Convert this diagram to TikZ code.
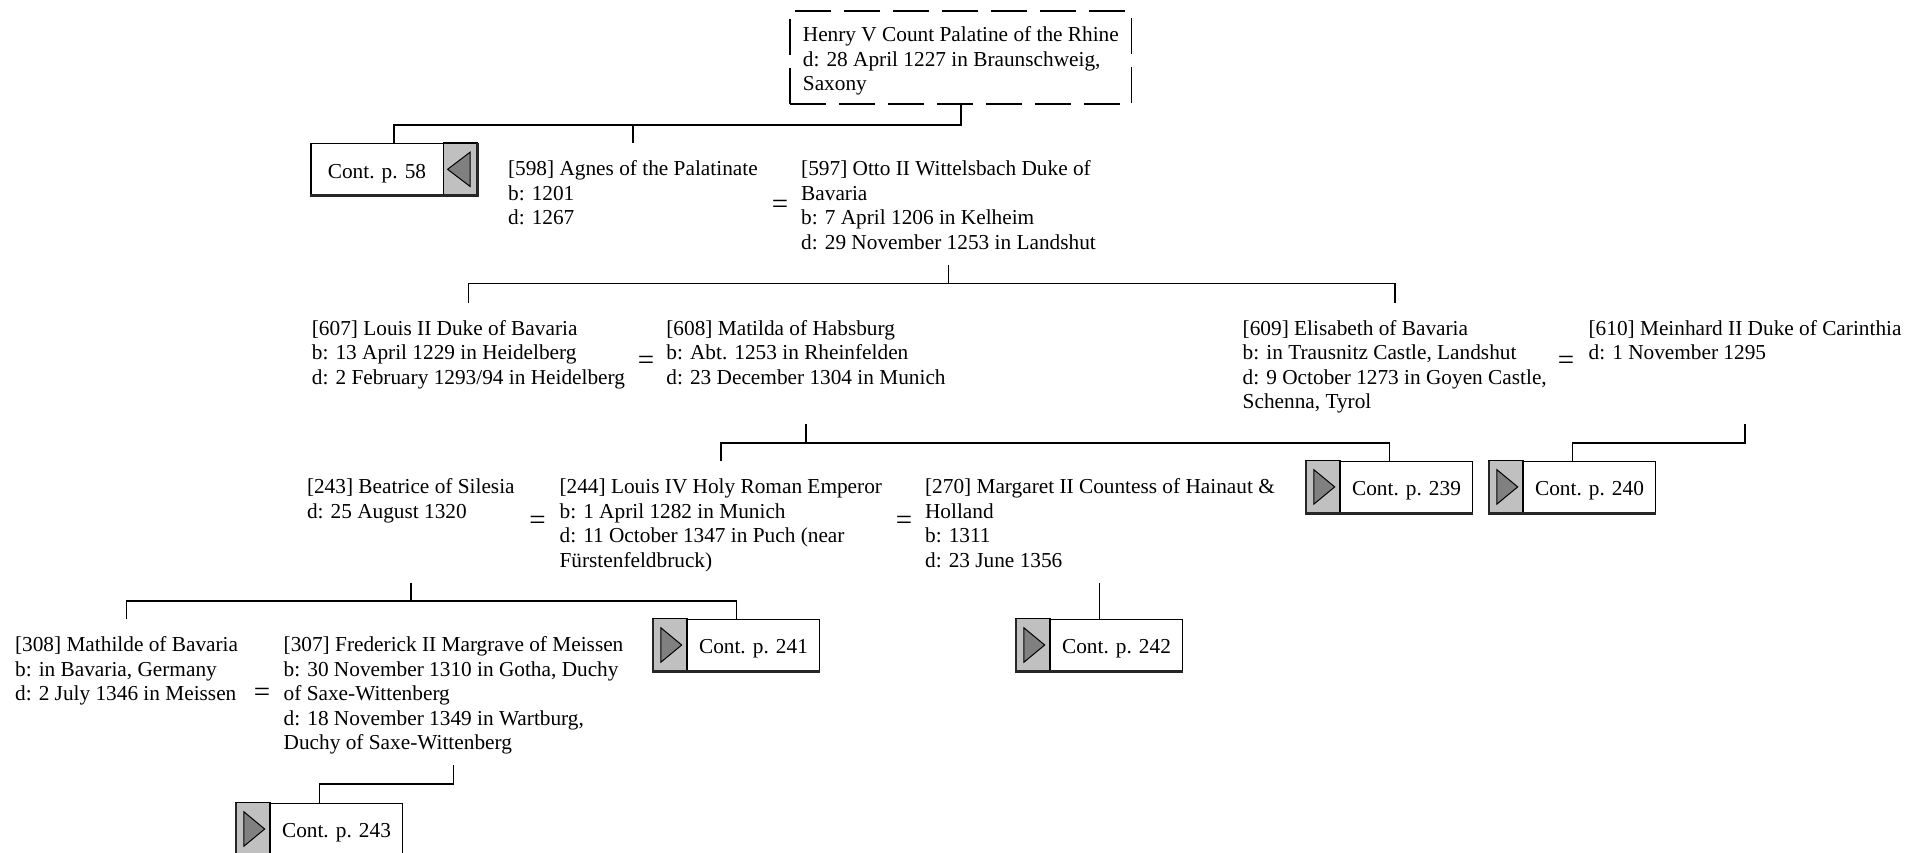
\documentclass[tikz,border=0pt]{standalone}
\usepackage{fontspec}
\setmainfont{Liberation Serif}
\definecolor{btngray}{HTML}{C0C0C0}
\definecolor{tridark}{HTML}{808080}
\newcommand\pfont{\fontsize{10.65pt}{12.25pt}\selectfont}
\newcommand\eqfont{\fontsize{14.5pt}{14.5pt}\selectfont}
\newcommand\contgrayR[1]{%
  \draw[graypart] ([xshift=-17pt]#1.north east) rectangle (#1.south east);
  \draw[tri] ([xshift=-15pt]#1.east) -- ([xshift=-3.7pt,yshift=8.6pt]#1.east) -- ([xshift=-3.7pt,yshift=-8.6pt]#1.east) -- cycle;
  \draw[shadowline] (#1.south west) -- (#1.south east) -- (#1.north east);
}
\newcommand\contgrayL[1]{%
  \draw[graypart] (#1.north west) rectangle ([xshift=17pt]#1.south west);
  \draw[tri] ([xshift=14.4pt]#1.west) -- ([xshift=4pt,yshift=8.6pt]#1.west) -- ([xshift=4pt,yshift=-8.6pt]#1.west) -- cycle;
  \draw[shadowline] (#1.north west) -- (#1.south west) -- (#1.south east);
}
\begin{document}
\begin{tikzpicture}[x=0.5pt,y=-0.5pt,
  person/.style={anchor=north west, inner sep=0pt, align=left, font=\pfont},
  eqsign/.style={inner sep=0pt, anchor=base, font=\eqfont},
  conn/.style={line width=0.8pt, black},
  contbox/.style={draw=black, line width=0.6pt, fill=white, inner sep=0pt, minimum height=25.75pt, text height=8.8pt, text depth=0pt, font=\pfont},
  graypart/.style={draw=black, line width=0.6pt, fill=btngray},
  tri/.style={draw=black, line width=0.5pt, fill=tridark, line join=miter},
  shadowline/.style={line width=1.3pt, black!85},
  dashedbox/.style={draw=black, line width=0.6pt, dash pattern=on 18pt off 6.5pt, align=left, inner sep=0pt, minimum width=170.85pt, minimum height=46.5pt, font=\pfont}
]
\useasboundingbox (0,0) rectangle (1923,852);

% people
\node[dashedbox] (henry) at (960.85,57.5) {\rule{0pt}{10.8pt}Henry V Count Palatine of the Rhine\\ d: 28 April 1227 in Braunschweig,\\ Saxony};
\node[person] (agnes) at (507.7,158.4) {\strut [598] Agnes of the Palatinate\\ b: 1201\\ d: 1267};
\node[person] (otto) at (800.8,158.4) {\strut [597] Otto II Wittelsbach Duke of\\ Bavaria\\ b: 7 April 1206 in Kelheim\\ d: 29 November 1253 in Landshut};
\node[person] (louis2) at (311.5,317.8) {\strut [607] Louis II Duke of Bavaria\\ b: 13 April 1229 in Heidelberg\\ d: 2 February 1293/94 in Heidelberg};
\node[person] (matilda) at (666,317.8) {\strut [608] Matilda of Habsburg\\ b: Abt. 1253 in Rheinfelden\\ d: 23 December 1304 in Munich};
\node[person] (elisabeth) at (1242.3,317.8) {\strut [609] Elisabeth of Bavaria\\ b: in Trausnitz Castle, Landshut\\ d: 9 October 1273 in Goyen Castle,\\ Schenna, Tyrol};
\node[person] (meinhard) at (1588.2,317.8) {\strut [610] Meinhard II Duke of Carinthia\\ d: 1 November 1295};
\node[person] (beatrice) at (306.6,476) {\strut [243] Beatrice of Silesia\\ d: 25 August 1320};
\node[person] (louis4) at (559.2,476) {\strut [244] Louis IV Holy Roman Emperor\\ b: 1 April 1282 in Munich\\ d: 11 October 1347 in Puch (near\\ Fürstenfeldbruck)};
\node[person] (margaret) at (924.7,476) {\strut [270] Margaret II Countess of Hainaut \&\\ Holland\\ b: 1311\\ d: 23 June 1356};
\node[person] (mathilde) at (14.7,634.3) {\strut [308] Mathilde of Bavaria\\ b: in Bavaria, Germany\\ d: 2 July 1346 in Meissen};
\node[person] (frederick) at (283.3,634.3) {\strut [307] Frederick II Margrave of Meissen\\ b: 30 November 1310 in Gotha, Duchy\\ of Saxe-Wittenberg\\ d: 18 November 1349 in Wartburg,\\ Duchy of Saxe-Wittenberg};

% marriage signs (placed on their baseline)
\node[eqsign] (eq1) at (780,213) {=};
\node[eqsign] (eq2) at (646,369.5) {=};
\node[eqsign] (eq3) at (1566,369.5) {=};
\node[eqsign] (eq4) at (537.5,529.5) {=};
\node[eqsign] (eq5) at (904,529.5) {=};
\node[eqsign] (eq6) at (262,701.5) {=};

% junction levels
\coordinate (bar0) at (0,125);
\coordinate (row1b) at (0,265);
\coordinate (bar1) at (0,283.3);
\coordinate (row2b) at (0,424.3);
\coordinate (bar2) at (0,442.7);
\coordinate (row3b) at (0,582.5);
\coordinate (bar3) at (0,600.9);
\coordinate (row4b) at (0,765.3);
\coordinate (bar4) at (0,783.7);

% continuation boxes
\node[contbox] (cont58) at (394,169.3) {\makebox[66pt]{Cont. p. 58}\rule{17pt}{0pt}};
\node[contbox] (cont239) at (1389.5,486.9) {\rule{17pt}{0pt}\makebox[66pt]{Cont. p. 239}};
\node[contbox] (cont240) at (1572.5,486.9) {\rule{17pt}{0pt}\makebox[66pt]{Cont. p. 240}};
\node[contbox] (cont241) at (736.5,645) {\rule{17pt}{0pt}\makebox[66pt]{Cont. p. 241}};
\node[contbox] (cont242) at (1099.5,645) {\rule{17pt}{0pt}\makebox[66pt]{Cont. p. 242}};
\node[contbox] (cont243) at (319.5,829) {\rule{17pt}{0pt}\makebox[66pt]{Cont. p. 243}};
\contgrayR{cont58}
\contgrayL{cont239}
\contgrayL{cont240}
\contgrayL{cont241}
\contgrayL{cont242}
\contgrayL{cont243}

% connectors
\draw[conn] (henry.south) -- (henry.south |- bar0) -| (cont58.north);
\draw[conn] (henry.south |- bar0) -| ([yshift=7.5pt]agnes.north);
\draw[conn] (otto.south |- row1b) -- (otto.south |- bar1) -| ([yshift=7.5pt]louis2.north);
\draw[conn] (otto.south |- bar1) -| ([yshift=7.5pt]elisabeth.north);
\draw[conn] (matilda.south |- row2b) -- (matilda.south |- bar2) -| ([yshift=7.5pt]louis4.north);
\draw[conn] (matilda.south |- bar2) -| (cont239.north);
\draw[conn] (meinhard.south |- row2b) -- (meinhard.south |- bar2) -| (cont240.north);
\draw[conn] (beatrice.south |- row3b) -- (beatrice.south |- bar3) -| ([yshift=7.5pt]mathilde.north);
\draw[conn] (beatrice.south |- bar3) -| (cont241.north);
\draw[conn] (cont242.north |- row3b) -- (cont242.north);
\draw[conn] (frederick.south |- row4b) -- (frederick.south |- bar4) -| (cont243.north);
\end{tikzpicture}
\end{document}
